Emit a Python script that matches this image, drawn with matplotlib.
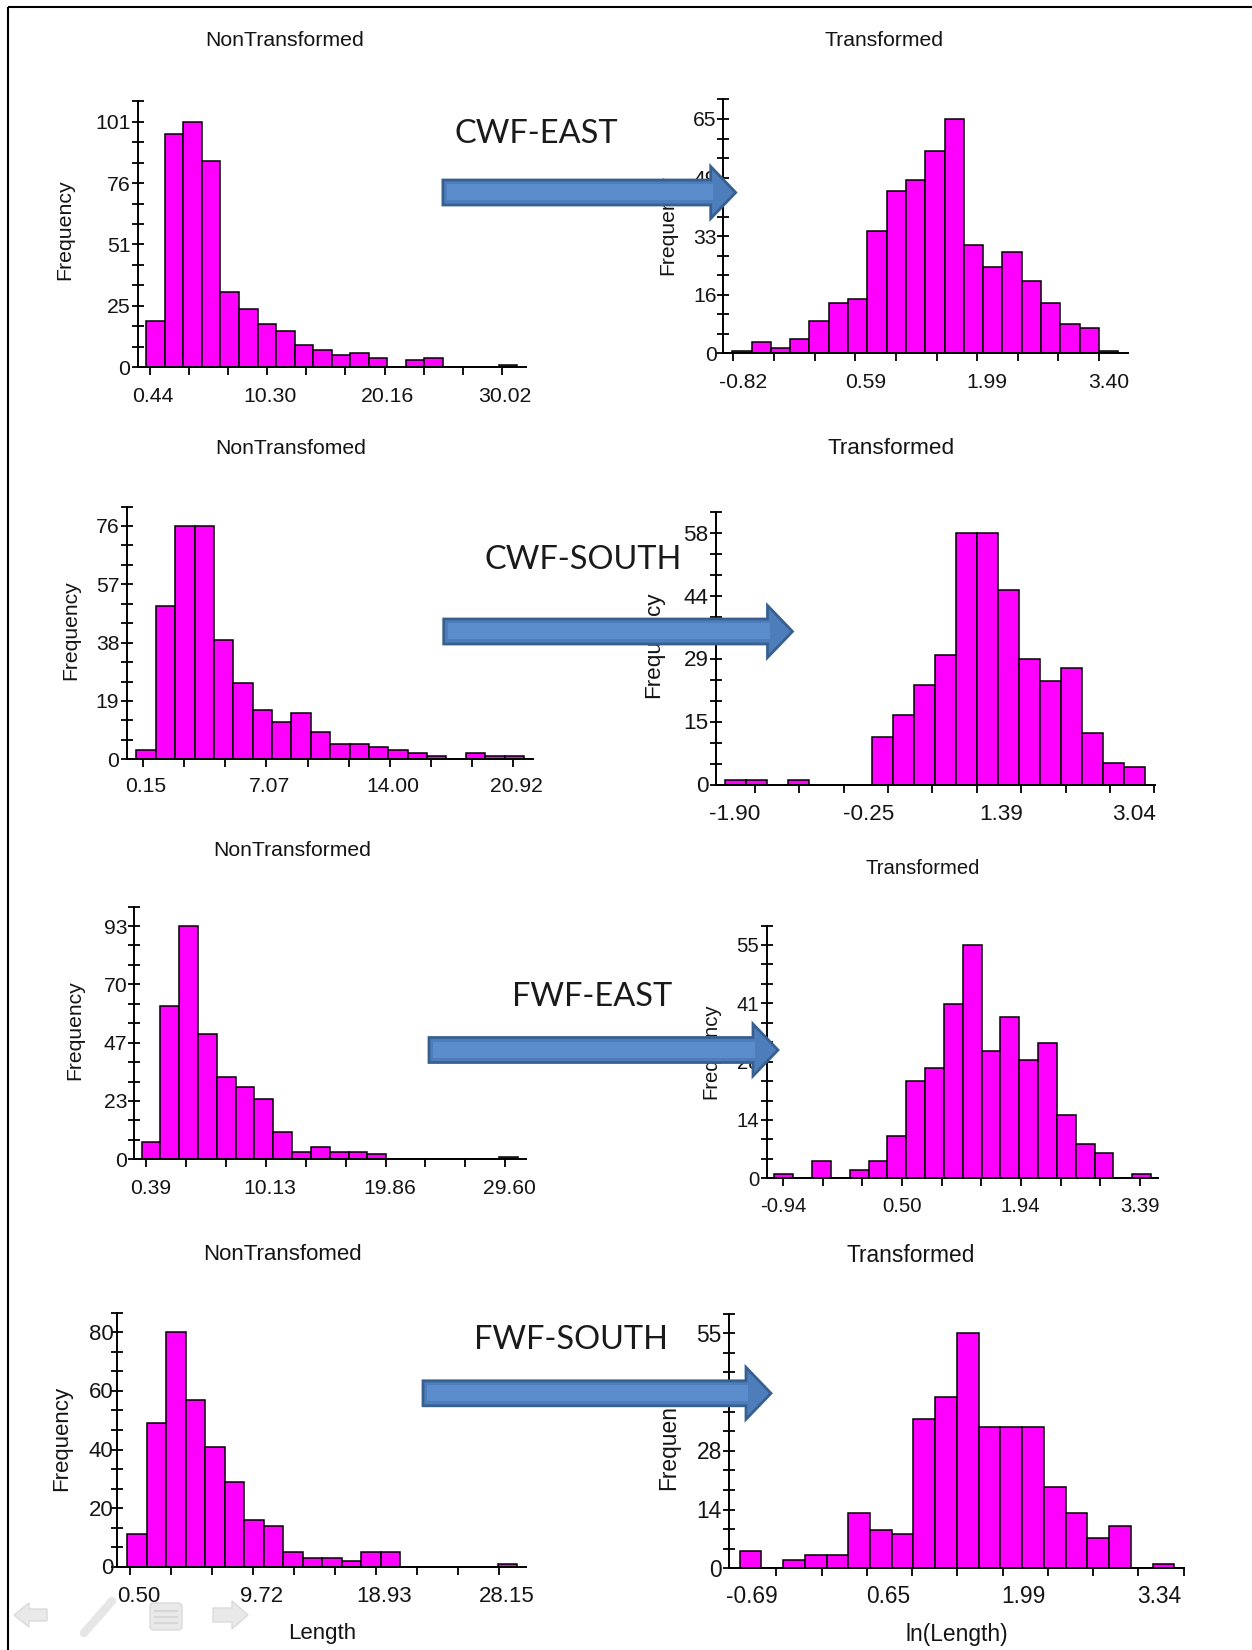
import numpy as np
import matplotlib
matplotlib.use("Agg")
import matplotlib.pyplot as plt
from matplotlib import patches, transforms

W, H, DPI = 1252, 1650, 100

# bin counts (20 bins each)
cwf_east_raw = [19, 96, 101, 85, 31, 24, 18, 15, 9, 7, 5, 6, 4, 0, 3, 4, 0, 0, 0, 1]
cwf_east_log = [0.5, 3, 1.5, 4, 9, 14, 15, 34, 45, 48, 56, 65, 30, 24, 28, 20, 14, 8, 7, 0.5]
cwf_south_raw = [3, 50, 76, 76, 39, 25, 16, 12, 15, 9, 5, 5, 4, 3, 2, 1, 0, 2, 1, 1]
cwf_south_log = [1, 1, 0, 1, 0, 0, 0, 11, 16, 23, 30, 58, 58, 45, 29, 24, 27, 12, 5, 4]
fwf_east_raw = [7, 61, 93, 50, 33, 29, 24, 11, 3, 5, 3, 3, 2, 0, 0, 0, 0, 0, 0, 1]
fwf_east_log = [1, 0, 4, 0, 2, 4, 10, 23, 26, 41, 55, 30, 38, 28, 32, 15, 8, 6, 0, 1]
fwf_south_raw = [11, 49, 80, 57, 41, 29, 16, 14, 5, 3, 3, 2, 5, 5, 0, 0, 0, 0, 0, 1]
fwf_south_log = [4, 0, 2, 3, 3, 13, 9, 8, 35, 40, 55, 33, 33, 33, 19, 13, 7, 10, 0, 1]

# histogram range (first edge, last edge)
cwf_east_raw_bins = (0.17, 31.28)
cwf_east_log_bins = (-0.832, 3.621)
cwf_south_raw_bins = (-0.226, 21.52)
cwf_south_log_bins = (-2.271, 2.925)
fwf_east_raw_bins = (0.008, 30.63)
fwf_east_log_bins = (-1.047, 3.527)
fwf_south_raw_bins = (0.26, 29.515)
fwf_south_log_bins = (-1.053, 3.249)

# labelled x ticks
cwf_east_raw_xt = [0.44, 10.30, 20.16, 30.02]
cwf_east_log_xt = [-0.82, 0.59, 1.99, 3.40]
cwf_south_raw_xt = [0.15, 7.07, 14.00, 20.92]
cwf_south_log_xt = [-1.90, -0.25, 1.39, 3.04]
fwf_east_raw_xt = [0.39, 10.13, 19.86, 29.60]
fwf_east_log_xt = [-0.94, 0.50, 1.94, 3.39]
fwf_south_raw_xt = [0.50, 9.72, 18.93, 28.15]
fwf_south_log_xt = [-0.69, 0.65, 1.99, 3.34]

# labelled y ticks (top value and printed labels)
cwf_east_raw_yt = (101, ['0', '25', '51', '76', '101'])
cwf_east_log_yt = (65, ['0', '16', '33', '49', '65'])
cwf_south_raw_yt = (76, ['0', '19', '38', '57', '76'])
cwf_south_log_yt = (58, ['0', '15', '29', '44', '58'])
fwf_east_raw_yt = (93, ['0', '23', '47', '70', '93'])
fwf_east_log_yt = (55, ['0', '14', '28', '41', '55'])
fwf_south_raw_yt = (80, ['0', '20', '40', '60', '80'])
fwf_south_log_yt = (55, ['0', '14', '28', '41', '55'])

groups = ['CWF-EAST', 'CWF-SOUTH', 'FWF-EAST', 'FWF-SOUTH']

# layout in pixels: axes (left, pixel of top labelled y tick, right, baseline), xlim,
# title / ylabel centres, x label offsets, y label gap, font size
panels = [
    dict(c=cwf_east_raw, b=cwf_east_raw_bins, xt=cwf_east_raw_xt, yt=cwf_east_raw_yt,
         title='NonTransformed', box=(138.4, 121.7, 525.9, 367.3), xlim=(-0.491, 32.007),
         tpos=(285, 40), ypos=(65, 230), dx=3, ly=396.7, gap=8, fs=15.3),
    dict(c=cwf_east_log, b=cwf_east_log_bins, xt=cwf_east_log_xt, yt=cwf_east_log_yt,
         title='Transformed', box=(722.5, 119, 1127.9, 353.3), xlim=(-0.945, 3.733),
         tpos=(884, 40), ypos=(668, 225), dx=10, ly=383, gap=6, fs=15.2),
    dict(c=cwf_south_raw, b=cwf_south_raw_bins, xt=cwf_south_raw_xt, yt=cwf_south_raw_yt,
         title='NonTransfomed', box=(127.3, 526, 533, 759.3), xlim=(-0.737, 22.03),
         tpos=(290.6, 449), ypos=(71, 630), dx=3, ly=786.7, gap=8, fs=15.2),
    dict(c=cwf_south_log, b=cwf_south_log_bins, xt=cwf_south_log_xt, yt=cwf_south_log_yt,
         title='Transformed', box=(715.5, 533.3, 1155, 784.6), xlim=(-2.389, 3.049),
         tpos=(891, 448), ypos=(654, 645), dx=-20, ly=815, gap=7, fs=16.2),
    dict(c=fwf_east_raw, b=fwf_east_raw_bins, xt=fwf_east_raw_xt, yt=fwf_east_raw_yt,
         title='NonTransformed', box=(134.4, 926, 525.9, 1159.3), xlim=(-0.578, 31.28),
         tpos=(292.6, 850), ypos=(75, 1030), dx=4, ly=1188.3, gap=7, fs=15.2),
    dict(c=fwf_east_log, b=fwf_east_log_bins, xt=fwf_east_log_xt, yt=fwf_east_log_yt,
         title='Transformed', box=(767.1, 945, 1158.1, 1178.3), xlim=(-1.135, 3.611),
         tpos=(922.3, 868.3), ypos=(710.7, 1051), dx=0, ly=1206.7, gap=8, fs=14.6),
    dict(c=fwf_south_raw, b=fwf_south_raw_bins, xt=fwf_south_raw_xt, yt=fwf_south_raw_yt,
         title='NonTransfomed', box=(116.6, 1332.3, 525.9, 1566.7), xlim=(-0.543, 30.17),
         tpos=(282.7, 1254), ypos=(61.3, 1438), dx=8, ly=1596, gap=3, fs=16),
    dict(c=fwf_south_log, b=fwf_south_log_bins, xt=fwf_south_log_xt, yt=fwf_south_log_yt,
         title='Transformed', box=(728.8, 1333.3, 1183.5, 1568.3), xlim=(-1.160, 3.333),
         tpos=(910.2, 1255), ypos=(668.4, 1436), dx=-24, ly=1596.7, gap=7, fs=16.4),
]

FONT = 'Liberation Sans'
TXT = '#141414'

fig = plt.figure(figsize=(W / DPI, H / DPI), dpi=DPI)
fig.patch.set_facecolor('white')


def px_box(l, t, r, b):
    return [l / W, 1 - b / H, (r - l) / W, (b - t) / H]


def shift(dx, dy):
    return transforms.ScaledTranslation(dx / DPI, dy / DPI, fig.dpi_scale_trans)


for p in panels:
    l, ytk, r, base = p['box']
    top = base - (base - ytk) * 13 / 12   # axis runs one minor step past the top label
    ax = fig.add_axes(px_box(l, top, r, base))
    ax.patch.set_alpha(0)
    counts = np.array(p['c'], dtype=float)
    edges = np.linspace(p['b'][0], p['b'][1], len(counts) + 1)
    centers = (edges[:-1] + edges[1:]) / 2
    ax.hist(centers, bins=edges, weights=counts, color='#ff00ff',
            edgecolor='black', linewidth=1.1)

    ymax, ylabels = p['yt']
    step = ymax / 12
    ax.set_xlim(*p['xlim'])
    ax.set_ylim(0, ymax + step)
    for s in ['top', 'right']:
        ax.spines[s].set_visible(False)
    for s in ['left', 'bottom']:
        ax.spines[s].set_linewidth(1.4)
    xt = p['xt']
    ax.set_xticks(np.linspace(xt[0], xt[-1], 10))
    ax.set_yticks(np.arange(14) * step)
    ax.tick_params(axis='x', direction='out', length=6, width=1.3,
                   labelbottom=False)
    ax.tick_params(axis='y', direction='inout', length=9, width=1.3,
                   labelleft=False)

    # x tick labels
    xtr = transforms.blended_transform_factory(ax.transData, ax.transAxes) \
        + shift(p['dx'], -(p['ly'] - base))
    for v in xt:
        ax.text(v, 0, f'{v:.2f}', transform=xtr, ha='center', va='center',
                fontsize=p['fs'], family=FONT, color=TXT, clip_on=False)
    # y tick labels
    ytr = transforms.blended_transform_factory(ax.transAxes, ax.transData) \
        + shift(-p['gap'], -2)
    for v, s in zip(np.linspace(0, ymax, 5), ylabels):
        ax.text(0, v, s, transform=ytr, ha='right', va='center',
                fontsize=p['fs'], family=FONT, color=TXT, clip_on=False)

# overlay in pixel coordinates for titles, arrows and slide decorations
ov = fig.add_axes([0, 0, 1, 1], zorder=10)
ov.set_xlim(0, W)
ov.set_ylim(H, 0)
ov.axis('off')
ov.patch.set_alpha(0)

for p in panels:
    ov.text(*p['tpos'], p['title'], ha='center', va='center',
            fontsize=p['fs'], family=FONT, color=TXT)
    ov.text(*p['ypos'], 'Frequency', ha='center', va='center', rotation=90,
            fontsize=p['fs'], family=FONT, color=TXT)

ov.text(322.3, 1633.3, 'Length', ha='center', va='center', fontsize=16,
        family=FONT, color=TXT)
ov.text(956.6, 1635, 'ln(Length)', ha='center', va='center', fontsize=16.4,
        family=FONT, color=TXT)

# group labels
label_pos = [(454, 134), (484, 560), (512, 997), (474, 1340)]
for name, (x, y) in zip(groups, label_pos):
    ov.text(x, y, name, ha='left', va='center', fontsize=23.4,
            family=['Lato', 'DejaVu Sans'], color='#1a1a1a', zorder=4)

# block arrows: tail x, tip x, centre y
arrows = [(442.9, 735.7, 192.5), (443.7, 792.5, 631.5),
          (429, 778, 1050), (423, 771, 1393.3)]
for tail, tip, cy in arrows:
    sw, hw, hl = 12.5, 26, 25
    pts = [(tail, cy - sw), (tip - hl, cy - sw), (tip - hl, cy - hw), (tip, cy),
           (tip - hl, cy + hw), (tip - hl, cy + sw), (tail, cy + sw)]
    ov.add_patch(patches.Polygon(pts, closed=True, facecolor='#4d7ebb',
                                 edgecolor='#37608f', linewidth=2, zorder=6))
    inner = [(tail + 4, cy - sw + 4), (tip - hl + 2, cy - sw + 4),
             (tip - hl + 2, cy + sw - 5), (tail + 4, cy + sw - 5)]
    ov.add_patch(patches.Polygon(inner, closed=True, facecolor='#5b8ccb',
                                 edgecolor='none', zorder=6.5))

# slide border
ov.plot([7.9, W], [6.7, 6.7], color='black', lw=1.5, solid_capstyle='butt')
ov.plot([7.9, 7.9], [6.7, H], color='black', lw=1.5, solid_capstyle='butt')

# faint slideshow navigation icons
icon = dict(facecolor='#e9e9e9', edgecolor='#dadada', linewidth=1, zorder=1)
ov.add_patch(patches.Polygon([(14, 1615), (29, 1603), (29, 1609), (47, 1609),
                              (47, 1621), (29, 1621), (29, 1627)], **icon))
ov.plot([84, 112], [1633, 1601], color='#e6e6e6', lw=6, solid_capstyle='round')
ov.add_patch(patches.FancyBboxPatch((151, 1604), 30, 25,
                                    boxstyle='round,pad=1,rounding_size=4', **icon))
for yy in (1611, 1617, 1623):
    ov.plot([155, 177], [yy, yy], color='#d6d6d6', lw=1.5)
ov.add_patch(patches.Polygon([(248, 1615), (232, 1601), (232, 1608), (213, 1608),
                              (213, 1622), (232, 1622), (232, 1629)], **icon))

fig.savefig('out.png', dpi=DPI, facecolor='white')
